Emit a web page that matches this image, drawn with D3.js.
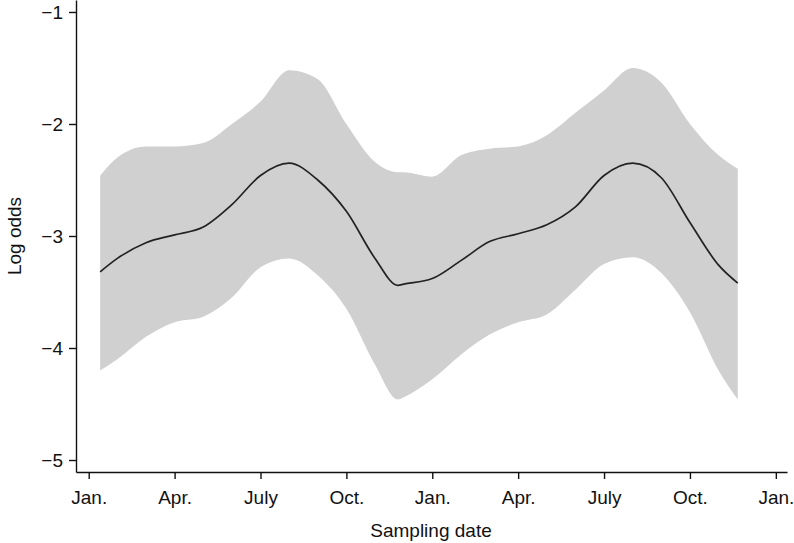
<!DOCTYPE html>
<html>
<head>
<meta charset="utf-8">
<script src="https://cdn.jsdelivr.net/npm/d3@7"></script>
<style>
  body { margin: 0; background: #fff; }
  text { font-family: "Liberation Sans", Arial, sans-serif; }
</style>
</head>
<body>
<div id="chart"></div>
<script>
// months counted from the first Jan. on the axis
const months = [0.4, 1, 2, 3, 4, 5, 6, 7, 8, 9, 10, 10.8, 11, 12, 13, 14, 15, 16, 17, 18, 19, 20, 21, 22, 22.67]
const logOdds = [-3.32, -3.2, -3.06, -2.99, -2.92, -2.72, -2.46, -2.35, -2.5, -2.78, -3.2, -3.44, -3.43, -3.38, -3.22, -3.05, -2.98, -2.9, -2.74, -2.46, -2.35, -2.48, -2.88, -3.26, -3.42]
const upper = [-2.46, -2.3, -2.2, -2.2, -2.17, -2.0, -1.8, -1.52, -1.6, -2.0, -2.34, -2.43, -2.43, -2.47, -2.28, -2.22, -2.2, -2.1, -1.9, -1.7, -1.5, -1.63, -2.0, -2.28, -2.4]
const lower = [-4.2, -4.1, -3.9, -3.77, -3.72, -3.55, -3.28, -3.2, -3.35, -3.65, -4.15, -4.46, -4.44, -4.28, -4.06, -3.88, -3.77, -3.7, -3.48, -3.25, -3.19, -3.33, -3.68, -4.2, -4.46]

const tickMonths = [0, 3, 6, 9, 12, 15, 18, 21, 24]
const tickLabels = ["Jan.", "Apr.", "July", "Oct.", "Jan.", "Apr.", "July", "Oct.", "Jan."]
const yTicks = [-5, -4, -3, -2, -1]

const data = months.map((m, i) => ({ m: m, c: logOdds[i], hi: upper[i], lo: lower[i] }))

const svg = d3.select("#chart")
    .append("svg")
    .attr("width", 794)
    .attr("height", 543)

let xScale = d3.scaleLinear()
    .domain([-0.444, 24.39])
    .range([76, 787])

let yScale = d3.scaleLinear()
    .domain([-5.107, -0.893])
    .range([472, 0])

svg.append("path")
    .datum(data)
    .attr("fill", "#d0d0d0")
    .attr("d", d3.area()
        .x(d => xScale(d.m))
        .y0(d => yScale(d.lo))
        .y1(d => yScale(d.hi))
        .curve(d3.curveMonotoneX))

svg.append("path")
    .datum(data)
    .attr("fill", "none")
    .attr("stroke", "#222")
    .attr("stroke-width", 1.7)
    .attr("d", d3.line()
        .x(d => xScale(d.m))
        .y(d => yScale(d.c))
        .curve(d3.curveMonotoneX))

let xAxis = d3.axisBottom(xScale)
    .tickValues(tickMonths)
    .tickFormat((d, i) => tickLabels[i])
    .tickSize(7)
    .tickSizeOuter(0)
    .tickPadding(12)

let yAxis = d3.axisLeft(yScale)
    .tickValues(yTicks)
    .tickFormat(d3.format("d"))
    .tickSize(7)
    .tickSizeOuter(0)
    .tickPadding(6)

const gx = svg.append("g").attr("transform", "translate(0,472)").call(xAxis)
const gy = svg.append("g").attr("transform", "translate(76,0)").call(yAxis)

for (const g of [gx, gy]) {
    g.selectAll("path, line").attr("stroke", "#111").attr("stroke-width", 1.4)
    g.selectAll("text").attr("font-size", 19).attr("fill", "#111")
        .style("font-family", '"Liberation Sans", Arial, sans-serif')
}

svg.append("text")
    .attr("x", 431)
    .attr("y", 537)
    .attr("text-anchor", "middle")
    .attr("font-size", 19)
    .attr("fill", "#111")
    .text("Sampling date")

svg.append("text")
    .attr("transform", "translate(21,236) rotate(-90)")
    .attr("text-anchor", "middle")
    .attr("font-size", 19)
    .attr("fill", "#111")
    .text("Log odds")
</script>
</body>
</html>
